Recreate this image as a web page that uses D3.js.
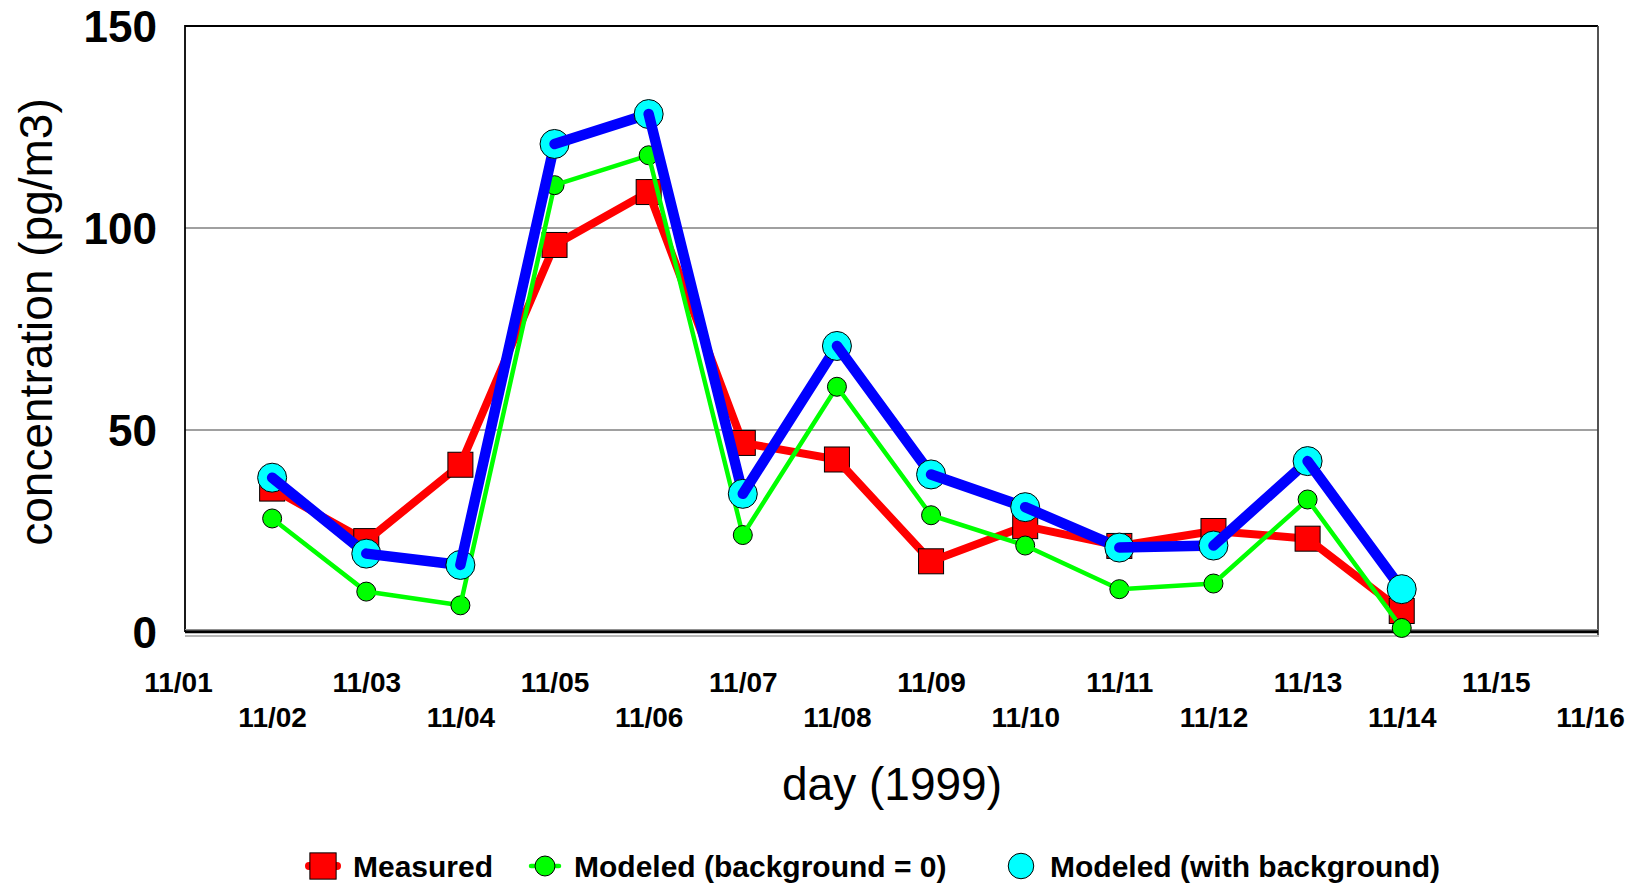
<!DOCTYPE html>
<html>
<head>
<meta charset="utf-8">
<script src="https://cdn.jsdelivr.net/npm/d3@7"></script>
<style>
  html, body { margin: 0; padding: 0; background: #fff; }
  svg { display: block; font-family: "Liberation Sans", Arial, sans-serif; }
</style>
</head>
<body>
<svg id="chart" width="1641" height="887"></svg>
<script>
// ---- data ----
const axisDays = ["11/01","11/02","11/03","11/04","11/05","11/06","11/07","11/08",
                  "11/09","11/10","11/11","11/12","11/13","11/14","11/15","11/16"];
const dataDays = ["11/02","11/03","11/04","11/05","11/06","11/07","11/08",
                  "11/09","11/10","11/11","11/12","11/13","11/14"];
const measured    = [35.5, 22.5, 41.4, 95.8, 108.9, 46.8, 42.7, 17.5, 26.2, 21.3, 25.0, 23.1, 5.2];
const modeledZero = [28.1, 10.0, 6.6, 110.6, 118.0, 24.0, 60.7, 28.9, 21.4, 10.6, 12.0, 32.8, 1.0];
const modeledBg   = [38.2, 19.4, 16.6, 120.8, 128.2, 34.2, 70.8, 39.0, 30.9, 20.9, 21.4, 42.3, 10.6];
const yTicks = [0, 50, 100, 150];
const seriesNames = ["Measured", "Modeled (background = 0)", "Modeled (with background)"];
const xTitle = "day (1999)";
const yTitle = "concentration (pg/m3)";

// ---- layout ----
const svg = d3.select("#chart");
const frame = { left: 185, right: 1598, top: 26, bottom: 632 };
const x = d3.scalePoint().domain(axisDays).range([178, 1590]);
const y = d3.scaleLinear().domain([0, 150]).range([632, 26]);

// gridlines
svg.append("g").selectAll("line")
  .data(yTicks.filter(v => v > 0 && v < 150))
  .join("line")
  .attr("x1", frame.left).attr("x2", frame.right)
  .attr("y1", d => y(d)).attr("y2", d => y(d))
  .attr("stroke", "#808080").attr("stroke-width", 1.6);

// frame
svg.append("line").attr("x1", frame.left).attr("x2", frame.right)
  .attr("y1", frame.top).attr("y2", frame.top)
  .attr("stroke", "#000").attr("stroke-width", 1.8);
svg.append("line").attr("x1", frame.left).attr("x2", frame.left)
  .attr("y1", frame.top - 0.9).attr("y2", frame.bottom)
  .attr("stroke", "#000").attr("stroke-width", 1.8);
svg.append("line").attr("x1", frame.right).attr("x2", frame.right)
  .attr("y1", frame.top).attr("y2", frame.bottom + 5)
  .attr("stroke", "#404040").attr("stroke-width", 1.8);
svg.append("line").attr("x1", frame.left).attr("x2", frame.right)
  .attr("y1", 629.5).attr("y2", 629.5)
  .attr("stroke", "#909090").attr("stroke-width", 1);
svg.append("line").attr("x1", frame.left).attr("x2", frame.right)
  .attr("y1", 631.8).attr("y2", 631.8)
  .attr("stroke", "#000").attr("stroke-width", 3);
svg.append("line").attr("x1", frame.left).attr("x2", frame.right + 1)
  .attr("y1", 636).attr("y2", 636)
  .attr("stroke", "#b8b8b8").attr("stroke-width", 2);

// y axis
const yAxis = svg.append("g")
  .attr("transform", "translate(157,0)")
  .call(d3.axisLeft(y).tickValues(yTicks).tickSize(0).tickPadding(0).tickFormat(d3.format("d")));
yAxis.select(".domain").remove();
yAxis.selectAll("text")
  .attr("font-family", "Liberation Sans, Arial, sans-serif")
  .attr("font-size", 44).attr("font-weight", "bold").attr("fill", "#000")
  .attr("x", 0).attr("dy", "0.36em");

// x axis
const xAxis = svg.append("g")
  .call(d3.axisBottom(x).tickSize(0).tickPadding(0));
xAxis.select(".domain").remove();
xAxis.selectAll("text")
  .attr("font-family", "Liberation Sans, Arial, sans-serif")
  .attr("font-size", 28).attr("font-weight", "bold").attr("fill", "#000")
  .attr("dy", 0)
  .attr("y", (d, i) => i % 2 === 0 ? 692 : 727);

// axis titles
svg.append("text")
  .attr("x", 892).attr("y", 800)
  .attr("text-anchor", "middle")
  .attr("font-size", 46).attr("fill", "#000")
  .text(xTitle);
svg.append("text")
  .attr("transform", "translate(52,322) rotate(-90)")
  .attr("text-anchor", "middle")
  .attr("font-size", 46).attr("fill", "#000")
  .text(yTitle);

// series definitions
const series = [
  { name: seriesNames[0], values: measured,    line: "#ff0000", lw: 8,   marker: "square", fill: "#ff0000", size: 25 },
  { name: seriesNames[1], values: modeledZero, line: "#00ff00", lw: 4.5, marker: "circle", fill: "#00ff00", size: 9.5 },
  { name: seriesNames[2], values: modeledBg,   line: "#0000ff", lw: 10.5, marker: "circle", fill: "#00ffff", size: 14.5 }
];

function drawMarker(g, s, cx, cy, scale) {
  const k = scale || 1;
  if (s.marker === "square") {
    const a = s.size * k;
    g.append("rect").attr("x", cx - a / 2).attr("y", cy - a / 2)
      .attr("width", a).attr("height", a)
      .attr("fill", s.fill).attr("stroke", "#000").attr("stroke-width", 1);
  } else {
    g.append("circle").attr("cx", cx).attr("cy", cy).attr("r", s.size * k)
      .attr("fill", s.fill).attr("stroke", "#000").attr("stroke-width", 1);
  }
}

const lineGen = d3.line().x(d => x(d.day)).y(d => y(d.v));
const plot = svg.append("g");
series.forEach(s => {
  const g = plot.append("g");
  const pts = dataDays.map((day, i) => ({ day, v: s.values[i] }));
  pts.forEach((p, i) => {
    if (i > 0) {
      g.append("path").attr("d", lineGen([pts[i - 1], p]))
        .attr("fill", "none").attr("stroke", s.line).attr("stroke-width", s.lw)
        .attr("stroke-linecap", "round").attr("stroke-linejoin", "round");
    }
    drawMarker(g, s, x(p.day), y(p.v));
  });
});

// legend
const legendX = [323, 545, 1021];
const legendTextX = [353, 574, 1050];
const legendY = 866;
const leg = svg.append("g");
series.forEach((s, i) => {
  const g = leg.append("g");
  if (i < 2) {
    g.append("line").attr("x1", legendX[i] - 14).attr("x2", legendX[i] + 14)
      .attr("y1", legendY).attr("y2", legendY)
      .attr("stroke", s.line).attr("stroke-width", s.lw).attr("stroke-linecap", "round");
  }
  drawMarker(g, s, legendX[i], legendY, i === 2 ? 0.88 : 1.05);
  g.append("text").attr("x", legendTextX[i]).attr("y", 877)
    .attr("font-size", 30).attr("font-weight", "bold").attr("fill", "#000")
    .text(s.name);
});
</script>
</body>
</html>
